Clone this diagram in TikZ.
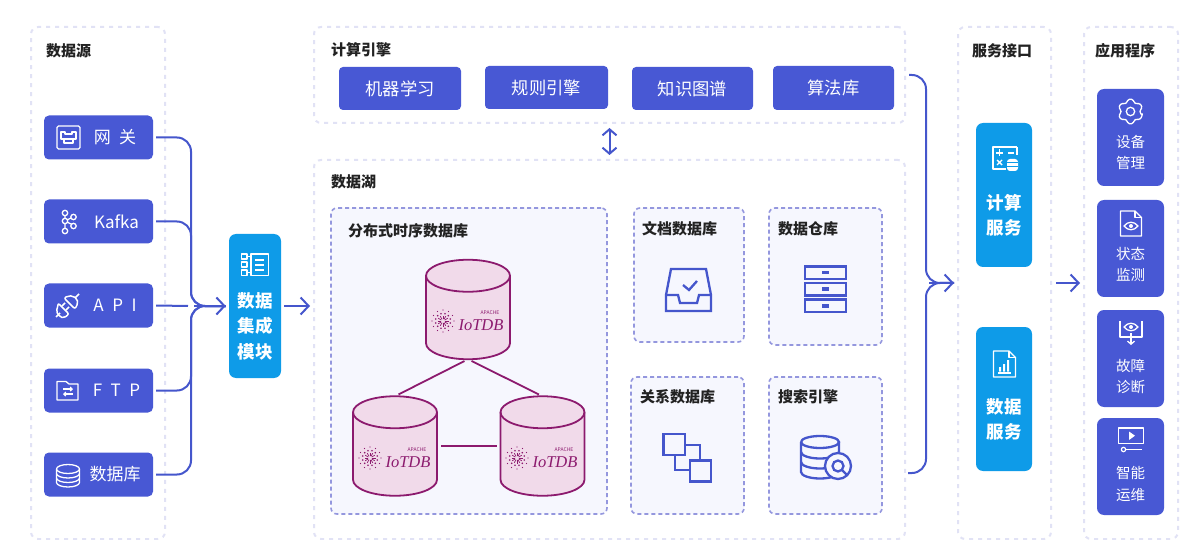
\documentclass[tikz,border=0pt]{standalone}
\usepackage{fontspec}
\setmainfont{Noto Sans CJK SC}
\newfontfamily\logofont{Liberation Serif}
\usepackage{tikz}
\usetikzlibrary{arrows.meta}
\definecolor{boxblue}{HTML}{4858D4}
\definecolor{skyblue}{HTML}{0E9BE8}
\definecolor{flowblue}{HTML}{4556CC}
\definecolor{paneldash}{HTML}{E1E2F5}
\definecolor{innerdash}{HTML}{9497DE}
\definecolor{innerfill}{HTML}{F6F7FE}
\definecolor{dbline}{HTML}{8C1A6E}
\definecolor{dbfill}{HTML}{F1DAEA}
\definecolor{titleblack}{HTML}{222222}
\tikzset{
  panel/.style={draw=paneldash,line width=2pt,dash pattern=on 4pt off 5pt,rounded corners=7pt,fill=white},
  innerpanel/.style={draw=innerdash,line width=1.6pt,dash pattern=on 4pt off 3pt,rounded corners=6pt,fill=innerfill},
  title/.style={anchor=west,inner sep=0pt,text=titleblack,font=\fontsize{15}{18}\selectfont\bfseries},
  srcbox/.style={fill=boxblue,rounded corners=5pt,minimum width=109pt,minimum height=44pt,inner sep=0pt,text=white,font=\fontsize{17}{20}\selectfont},
  enginebox/.style={fill=boxblue,rounded corners=4pt,minimum width=122pt,minimum height=43pt,inner sep=0pt,text=white,font=\fontsize{17.3}{20}\selectfont},
  appbox/.style={fill=boxblue,rounded corners=7pt,minimum width=67pt,minimum height=97pt,inner sep=0pt,text=white,align=center,font=\fontsize{14.5}{21.5}\selectfont},
  skybox/.style={fill=skyblue,rounded corners=7pt,minimum height=144pt,inner sep=0pt,text=white,align=center,font=\fontsize{17.5}{25.5}\selectfont\bfseries},
  flow/.style={draw=flowblue,line width=2pt,rounded corners=14pt,shorten <=3pt,shorten >=3pt,>={Straight Barb[length=8pt,width=17pt]}},
  dbnode/.style={minimum width=84pt,minimum height=99.5pt,inner sep=0pt,outer sep=0pt},
  dbshape/.style={draw=dbline,line width=1.8pt},
  dblink/.style={draw=dbline,line width=1.8pt,shorten <=4pt,shorten >=4pt},
  logotext/.style={inner sep=0pt,text=dbline,font=\fontsize{16.5}{17}\selectfont\logofont\itshape},
  icon/.style={draw=white,line width=1.3pt,line join=round},
  iconblue/.style={draw=flowblue,line width=2.3pt,line join=miter},
}
% drum round a named node
\newcommand{\drum}[1]{
  \draw[dbshape,fill=dbfill] (#1.north west) ++(0,16) -- ++(0,67.5) arc[start angle=180,end angle=0,x radius=42,y radius=16] -- ++(0,-67.5) arc[start angle=0,end angle=-180,x radius=42,y radius=16] -- cycle;
  \draw[dbshape] (#1.north west) ++(0,16) arc[start angle=180,end angle=0,x radius=42,y radius=16];
}
% star and name on the drums
\newcommand{\iotdblogo}[3]{
  \foreach \a in {0,30,...,330} {
    \fill[dbline] (#2,#3) ++(\a:11) circle (0.7);
    \fill[dbline] (#2,#3) ++(\a+15:7.5) circle (0.9);
    \draw[dbline,line width=0.7pt] (#2,#3) ++(\a:2) -- ++(\a:3.5);
  }
  \node[logotext] (#1) at (#2+38,#3+4) {IoTDB};
  \node[inner sep=0pt,text=dbline,font=\fontsize{5}{5}\selectfont] (#1apache) at (#2+47,#3-8) {APACHE};
}
\newcommand{\eyeicon}[2]{
  \draw[icon,line width=1.3pt] (#1-7,#2) .. controls (#1-3,#2-5) and (#1+3,#2-5) .. (#1+7,#2) .. controls (#1+3,#2+5) and (#1-3,#2+5) .. (#1-7,#2) -- cycle;
  \fill[white] (#1,#2) circle (2);
}
\begin{document}
\begin{tikzpicture}[x=1pt,y=-1pt]
\useasboundingbox (0,0) rectangle (1192,540);

% panels
\node[panel,minimum width=134pt,minimum height=512pt] (source) at (98,283) {};
\node[panel,minimum width=591pt,minimum height=96pt] (engine) at (609.5,75) {};
\node[panel,minimum width=591pt,minimum height=379pt] (lake) at (609.5,349.5) {};
\node[panel,minimum width=93pt,minimum height=512pt] (service) at (1004.5,283) {};
\node[panel,minimum width=94pt,minimum height=512pt] (apps) at (1131,283) {};

\node[title] (sourcetitle) at (46,51) {数据源};
\node[title] (enginetitle) at (331,50) {计算引擎};
\node[title] (laketitle) at (331,182) {数据湖};
\node[title] (servicetitle) at (972,51) {服务接口};
\node[title] (appstitle) at (1095,51) {应用程序};

% sources
\node[srcbox] (gateway) at (98.5,137.5) {\hspace*{33pt}网\,\,\,关};
\node[srcbox] (kafka) at (98.5,221.5) {\hspace*{36pt}Kafka};
\node[srcbox] (api) at (98.5,305.5) {\hspace*{33pt}A\,\,\,P\,\,\,I};
\node[srcbox] (ftp) at (98.5,390.5) {\hspace*{36pt}F\,\,\,T\,\,\,P};
\node[srcbox] (database) at (98.5,474.5) {\hspace*{33pt}数据库};

\draw[icon,rounded corners=1.5pt] (57,126) rectangle (80,149);
\draw[icon] (61,136) -- (61,132) -- (65,132) -- (65,134) -- (72,134) -- (72,132) -- (76,132) -- (76,139) -- (61,139) -- cycle;
\draw[icon] (64,139) -- (64,143) -- (73,143) -- (73,139);

\draw[icon] (65,213) -- (65,231) (65,221) -- (73,217) (65,221) -- (73,225);
\foreach \x/\y in {65/213,65/221,65/231,73.5/217,73.5/226} {
  \draw[icon,fill=boxblue] (\x,\y) circle (2.7);
}

\draw[icon,line width=1.5pt] (56,317) -- (60,313);
\draw[icon,line width=1.5pt,rounded corners=2pt] (58,303) -- (69,314) -- (64,318) -- (60,317) -- (56,311) -- (58,307) -- cycle;
\draw[icon,line width=1.5pt,rounded corners=2pt] (64,298) -- (75,309) -- (78,303) -- (77,299) -- (73,296) -- (68,296) -- cycle;
\draw[icon,line width=1.5pt] (75,298) -- (79,294) (62,306) -- (65,303) (66,310) -- (69,307);

\draw[icon] (57,381.5) -- (66,381.5) -- (69,384) -- (78,384) -- (78,400) -- (57,400) -- cycle;
\draw[icon,line width=1.1pt,-{Straight Barb[length=2pt,width=4pt]}] (63,389) -- (73,389);
\draw[icon,line width=1.1pt,-{Straight Barb[length=2pt,width=4pt]}] (73,394) -- (63,394);

\draw[icon] (56.5,469) arc[start angle=180,end angle=-180,x radius=11.5,y radius=4.5];
\draw[icon] (56.5,469) -- (56.5,482.5) arc[start angle=180,end angle=0,x radius=11.5,y radius=4.5] -- (79.5,469);
\draw[icon] (56.5,473.5) arc[start angle=180,end angle=0,x radius=11.5,y radius=4.5];
\draw[icon] (56.5,478) arc[start angle=180,end angle=0,x radius=11.5,y radius=4.5];

% integration
\node[skybox,minimum width=52pt] (integ) at (255,306) {\mbox{}\\[30pt]数据\\集成\\模块};
\draw[icon,line width=1.6pt] (241.5,254) rectangle (247,259) (241.5,262) rectangle (247,267) (241.5,270) rectangle (247,275.5);
\draw[icon,line width=1.6pt] (247,256.5) -- (251,256.5) (247,272.5) -- (251,272.5);
\draw[icon,line width=1.6pt] (251,254) rectangle (268.5,275.5);
\draw[icon,line width=1.6pt] (255,260) -- (264,260) (255,265) -- (264,265) (255,270) -- (264,270);

\coordinate (busleft) at (191,306);
\foreach \n in {gateway,kafka,ftp,database} {
  \draw[flow] (\n.east) -| (busleft) -- (integ.west);
}
\draw[flow] (api.east) -- (busleft);
\draw[flow,->] (busleft) -- (integ.west);
\draw[flow,->] (integ.east) -- (lake.west |- integ.east);

% engines
\node[enginebox] (learning) at (400,88.5) {机器学习};
\node[enginebox,minimum width=123pt] (rules) at (546.5,87.5) {规则引擎};
\node[enginebox,minimum width=121pt] (graph) at (692.5,88.5) {知识图谱};
\node[enginebox,minimum width=121pt,minimum height=44pt] (algo) at (833.5,88) {算法库};
\draw[flow,<->,shorten <=4pt,shorten >=4pt,>={Straight Barb[length=6pt,width=14pt]}] (engine.south) -- (lake.north);

% distributed store
\node[innerpanel,minimum width=276pt,minimum height=306pt] (tsdb) at (469,361) {};
\node[title] (tsdbtitle) at (348,231) {分布式时序数据库};
\node[dbnode] (dbtop) at (468,309.5) {};
\node[dbnode] (dbleft) at (395,446) {};
\node[dbnode] (dbright) at (542.5,446) {};
\drum{dbtop}
\drum{dbleft}
\drum{dbright}
\iotdblogo{logotop}{443}{321}
\iotdblogo{logoleft}{370}{458}
\iotdblogo{logoright}{517}{458}
\draw[dblink] (dbtop.south) -- (dbleft.north);
\draw[dblink] (dbtop.south) -- (dbright.north);
\draw[dblink] (dbleft.east) -- (dbright.west);

% other stores
\node[innerpanel,minimum width=110pt,minimum height=134pt] (docs) at (689,275) {};
\node[innerpanel,minimum width=113pt,minimum height=137pt] (warehouse) at (825.5,276.5) {};
\node[innerpanel,minimum width=113pt,minimum height=137pt] (relation) at (687.5,445.5) {};
\node[innerpanel,minimum width=113pt,minimum height=137pt] (search) at (825.5,445.5) {};
\node[title] (docstitle) at (642,229) {文档数据库};
\node[title] (warehousetitle) at (778,229) {数据仓库};
\node[title] (relationtitle) at (640,397) {关系数据库};
\node[title] (searchtitle) at (778,397) {搜索引擎};

\draw[iconblue] (666,295) -- (671,269) -- (706,269) -- (711,295) -- (711,311) -- (666,311) -- cycle;
\draw[iconblue] (666,295) -- (678,295) -- (680,303) -- (697,303) -- (699,295) -- (711,295);
\draw[iconblue] (683,285) -- (689,290) -- (697,281);

\foreach \y in {266.5,283,299.5} {
  \draw[iconblue] (805,\y) rectangle (846,\y+12.5);
  \fill[flowblue] (822,\y+4.5) rectangle (829,\y+8);
}

\draw[iconblue] (675,445) rectangle (700,470);
\draw[iconblue,fill=innerfill] (663.5,434) rectangle (685,455);
\draw[iconblue,fill=innerfill] (690,460.5) rectangle (711,481.5);

\draw[iconblue] (801,442) arc[start angle=180,end angle=-180,x radius=19,y radius=6];
\draw[iconblue] (801,442) -- (801,472) arc[start angle=180,end angle=0,x radius=19,y radius=6.5] -- (839,442);
\draw[iconblue] (801,452) arc[start angle=180,end angle=0,x radius=19,y radius=6.5];
\draw[iconblue] (801,462) arc[start angle=180,end angle=0,x radius=19,y radius=6.5];
\draw[iconblue,fill=innerfill] (838,466) circle (13);
\draw[iconblue] (838,466) circle (5.5);
\draw[iconblue,line cap=round] (842,470) -- (846,474);

% services
\node[skybox,minimum width=56pt] (compute) at (1004,195) {\mbox{}\\[30pt]计算\\服务};
\node[skybox,minimum width=56pt] (dataserv) at (1004,399) {\mbox{}\\[30pt]数据\\服务};

\draw[icon] (1012,147) -- (993,147) -- (993,169) -- (1006,169) (1017,147) -- (1017,155);
\draw[icon] (1012,147) -- (1017,147);
\draw[icon,line width=1.4pt] (996,153) -- (1003,153) (999.5,149.5) -- (999.5,156.5) (1008,153) -- (1014,153);
\draw[icon,line width=1.4pt] (997,160) -- (1002,165) (1002,160) -- (997,165);
\fill[white,rounded corners=3pt] (1007,159) rectangle (1018,171);
\draw[skyblue,line width=1pt] (1007,163) -- (1018,163) (1007,167) -- (1018,167);

\draw[icon] (993.5,351) -- (1009,351) -- (1015.5,357.5) -- (1015.5,377) -- (993.5,377) -- cycle;
\draw[icon] (1009,351) -- (1009,357.5) -- (1015.5,357.5);
\draw[icon,line width=1.1pt] (998,373) -- (1011,373);
\fill[white] (999,367) rectangle (1001,371.5) (1003,364) rectangle (1005,371.5) (1007,360) rectangle (1009,371.5);

\coordinate (lakeout) at (905,473);
\coordinate (busright) at (926,283);
\draw[flow] (engine.east) -| (busright) -- (service.west);
\draw[flow] (lakeout) -| (busright) -- (service.west);
\draw[flow,->] (busright) -- (service.west);
\draw[flow,->,shorten <=4pt] (service.east) -- (apps.west);

% applications
\node[appbox] (device) at (1130.5,137.5) {\mbox{}\\[21pt]设备\\管理};
\node[appbox] (monitor) at (1130.5,248.5) {\mbox{}\\[23pt]状态\\监测};
\node[appbox] (fault) at (1130.5,358.5) {\mbox{}\\[27pt]故障\\诊断};
\node[appbox] (ops) at (1130.5,466.5) {\mbox{}\\[26pt]智能\\运维};

\begin{scope}[shift={(1130.5,111.5)}]
\draw[icon,rounded corners=1.5pt] (18:12.5) \foreach \a in {30,90,...,330} {
  -- (\a-12:12.5) -- (\a+12:12.5) -- (\a+22:9.5) -- (\a+38:9.5)
} -- cycle;
\draw[icon] (0,0) circle (4.2);
\end{scope}

\draw[icon] (1120.5,211) -- (1135,211) -- (1141.5,217.5) -- (1141.5,236) -- (1120.5,236) -- cycle;
\draw[icon] (1135,211) -- (1135,217.5) -- (1141.5,217.5);
\eyeicon{1131}{226}

\draw[icon] (1120,321) -- (1120,337) -- (1142,337) -- (1142,321);
\eyeicon{1131}{327}
\draw[icon,-{Straight Barb[length=3pt,width=7pt]}] (1131,333) -- (1131,345);

\draw[icon] (1118.5,428) rectangle (1143.5,443.5);
\fill[white] (1129,431.5) -- (1135,435.7) -- (1129,440) -- cycle;
\draw[icon,line width=1.2pt] (1126,449.5) -- (1142,449.5);
\draw[icon,line width=1.2pt] (1123.5,449.5) circle (2.2);
\end{tikzpicture}
\end{document}
